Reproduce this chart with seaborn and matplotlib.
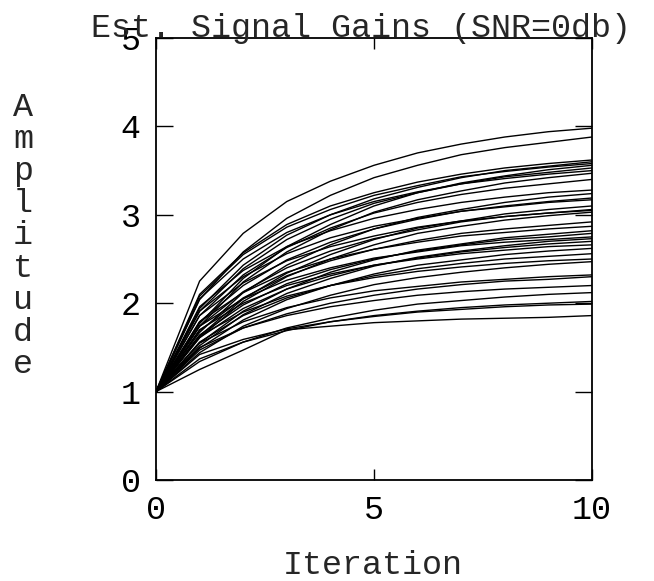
import matplotlib
matplotlib.use("Agg")
import matplotlib.pyplot as plt
import seaborn as sns
import pandas as pd

iterations = [0, 1, 2, 3, 4, 5, 6, 7, 8, 9, 10]

gain_runs = [
    [1, 2.25, 2.79, 3.15, 3.38, 3.56, 3.70, 3.80, 3.88, 3.94, 3.98],
    [1, 2.04, 2.58, 2.96, 3.22, 3.42, 3.56, 3.68, 3.76, 3.82, 3.88],
    [1, 2.10, 2.57, 2.89, 3.10, 3.25, 3.37, 3.46, 3.53, 3.58, 3.62],
    [1, 1.94, 2.43, 2.77, 3.00, 3.18, 3.31, 3.42, 3.50, 3.55, 3.60],
    [1, 2.08, 2.55, 2.86, 3.06, 3.22, 3.33, 3.43, 3.49, 3.54, 3.58],
    [1, 1.77, 2.28, 2.64, 2.89, 3.10, 3.25, 3.36, 3.44, 3.51, 3.56],
    [1, 1.91, 2.39, 2.72, 2.95, 3.13, 3.25, 3.35, 3.43, 3.48, 3.53],
    [1, 2.05, 2.50, 2.80, 3.00, 3.15, 3.26, 3.35, 3.41, 3.46, 3.50],
    [1, 1.74, 2.24, 2.58, 2.83, 3.03, 3.17, 3.27, 3.36, 3.42, 3.47],
    [1, 1.86, 2.32, 2.63, 2.85, 3.02, 3.14, 3.23, 3.30, 3.35, 3.40],
    [1, 1.96, 2.37, 2.64, 2.82, 2.96, 3.06, 3.14, 3.20, 3.25, 3.28],
    [1, 1.67, 2.12, 2.43, 2.66, 2.84, 2.97, 3.06, 3.14, 3.20, 3.24],
    [1, 1.79, 2.20, 2.49, 2.69, 2.84, 2.95, 3.04, 3.10, 3.15, 3.19],
    [1, 1.91, 2.30, 2.56, 2.74, 2.87, 2.96, 3.04, 3.09, 3.14, 3.17],
    [1, 1.63, 2.05, 2.34, 2.55, 2.72, 2.85, 2.93, 3.01, 3.06, 3.10],
    [1, 1.74, 2.13, 2.40, 2.59, 2.73, 2.83, 2.92, 2.98, 3.02, 3.06],
    [1, 1.86, 2.23, 2.48, 2.64, 2.76, 2.86, 2.93, 2.98, 3.02, 3.05],
    [1, 1.61, 2.02, 2.30, 2.50, 2.66, 2.79, 2.87, 2.94, 2.99, 3.03],
    [1, 1.69, 2.06, 2.31, 2.48, 2.61, 2.71, 2.79, 2.84, 2.88, 2.92],
    [1, 1.79, 2.12, 2.35, 2.50, 2.61, 2.69, 2.76, 2.80, 2.84, 2.87],
    [1, 1.55, 1.91, 2.16, 2.35, 2.49, 2.60, 2.67, 2.74, 2.78, 2.82],
    [1, 1.64, 1.98, 2.22, 2.38, 2.50, 2.59, 2.66, 2.72, 2.75, 2.79],
    [1, 1.74, 2.05, 2.26, 2.40, 2.51, 2.58, 2.65, 2.69, 2.72, 2.75],
    [1, 1.52, 1.87, 2.11, 2.28, 2.42, 2.52, 2.59, 2.65, 2.70, 2.73],
    [1, 1.61, 1.94, 2.16, 2.31, 2.43, 2.51, 2.58, 2.63, 2.67, 2.70],
    [1, 1.70, 2.00, 2.20, 2.33, 2.43, 2.50, 2.56, 2.60, 2.64, 2.66],
    [1, 1.49, 1.81, 2.04, 2.20, 2.33, 2.43, 2.49, 2.55, 2.59, 2.62],
    [1, 1.56, 1.86, 2.06, 2.20, 2.31, 2.39, 2.45, 2.50, 2.53, 2.56],
    [1, 1.63, 1.90, 2.08, 2.20, 2.29, 2.36, 2.41, 2.45, 2.48, 2.50],
    [1, 1.44, 1.74, 1.94, 2.09, 2.21, 2.29, 2.35, 2.40, 2.44, 2.47],
    [1, 1.55, 1.79, 1.95, 2.06, 2.14, 2.19, 2.24, 2.27, 2.30, 2.32],
    [1, 1.47, 1.72, 1.88, 2.00, 2.09, 2.16, 2.21, 2.25, 2.27, 2.30],
    [1, 1.50, 1.72, 1.86, 1.96, 2.03, 2.09, 2.13, 2.16, 2.18, 2.20],
    [1, 1.34, 1.56, 1.72, 1.83, 1.92, 1.99, 2.03, 2.07, 2.10, 2.12],
    [1, 1.37, 1.56, 1.69, 1.79, 1.86, 1.91, 1.95, 1.98, 2.00, 2.02],
    [1, 1.42, 1.59, 1.71, 1.79, 1.85, 1.90, 1.93, 1.96, 1.98, 1.99],
    [1, 1.25, 1.47, 1.70, 1.74, 1.78, 1.80, 1.82, 1.83, 1.84, 1.86],
]

x_ticks = [0, 5, 10]
y_ticks = [0, 1, 2, 3, 4, 5]
title_text = "Est. Signal Gains (SNR=0db)"
x_label = "Iteration"
y_label = "Amplitude"

rows = []
for run_id, run in enumerate(gain_runs):
    for it, val in zip(iterations, run):
        rows.append({"run": run_id, "Iteration": it, "Amplitude": val})
df = pd.DataFrame(rows)

sns.set_style("ticks")
plt.rcParams["font.family"] = ["Liberation Mono", "DejaVu Sans Mono"]

fig = plt.figure(figsize=(6.54, 5.81), dpi=100)
ax = fig.add_axes([156 / 654, 101 / 581, 436 / 654, 442 / 581])

sns.lineplot(data=df, x="Iteration", y="Amplitude", units="run",
             estimator=None, color="black", linewidth=1.0, ax=ax,
             legend=False)

ax.set_xlim(0, 10)
ax.set_ylim(0, 5)
ax.set_xticks(x_ticks)
ax.set_yticks(y_ticks)
ax.set_xticklabels([str(t) for t in x_ticks], fontsize=24)
ax.set_yticklabels([str(t) for t in y_ticks], fontsize=24)
ax.tick_params(axis="y", direction="in", left=True, right=True, length=12,
               width=1.0, pad=11, colors="black")
ax.tick_params(axis="x", direction="in", bottom=True, top=True, length=8,
               width=1.0, pad=11, colors="black")
for s in ax.spines.values():
    s.set_visible(True)
    s.set_linewidth(1.3)
    s.set_color("black")
ax.set_xlabel("")
ax.set_ylabel("")

fig.text(361 / 654, 1 - 37 / 581, title_text, ha="center", va="baseline",
         fontsize=24)
fig.text(373 / 654, 1 - 574 / 581, x_label, ha="center", va="baseline",
         fontsize=24)
fig.text(23 / 654, 1 - 236 / 581, "\n".join(y_label), ha="center",
         va="center", fontsize=24, linespacing=1.05)

fig.savefig("out.png", dpi=100)
